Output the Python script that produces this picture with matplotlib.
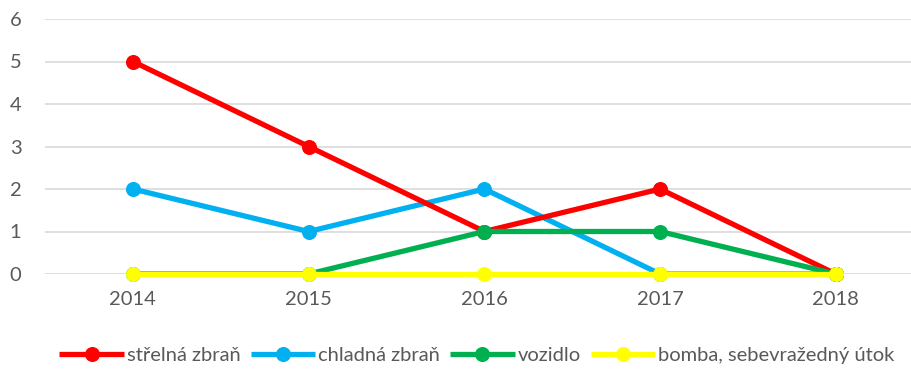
import matplotlib
matplotlib.use("Agg")
import matplotlib.pyplot as plt

plt.rcParams['font.family'] = ['Lato', 'DejaVu Sans']

years = ["2014", "2015", "2016", "2017", "2018"]
strelna = [5, 3, 1, 2, 0]
chladna = [2, 1, 2, 0, 0]
vozidlo = [0, 0, 1, 1, 0]
bomba = [0, 0, 0, 0, 0]

series = [
    ("střelná zbraň", strelna, "#FF0000", 3),
    ("chladná zbraň", chladna, "#00B0F0", 2),
    ("vozidlo", vozidlo, "#00B050", 4),
    ("bomba, sebevražedný útok", bomba, "#FFFF00", 5),
]

fig = plt.figure(figsize=(9.12, 3.69), dpi=100)
ax = fig.add_axes([45 / 912, 1 - 274 / 369, 867 / 912, 255 / 369])

x = list(range(len(years)))
handles = []
for label, vals, color, z in series:
    h, = ax.plot(x, vals, color=color, lw=3.8, marker="o", markersize=10,
                 markerfacecolor=color, markeredgecolor=color, markeredgewidth=0.8,
                 solid_capstyle="butt", label=label, zorder=z, clip_on=False)
    handles.append(h)

ax.set_ylim(0, 6)
ax.set_xlim(-0.5, -0.5 + 867 / 175.75)
ax.set_yticks(range(0, 7))
ax.set_xticks(x)
ax.set_xticklabels(years)
ax.grid(axis="y", color="#D9D9D9", lw=1.2, zorder=0)
ax.set_axisbelow(True)
for s in ax.spines.values():
    s.set_visible(False)
ax.tick_params(axis="both", length=0, labelsize=14.5, labelcolor="#595959")
ax.tick_params(axis="x", pad=12)
ax.tick_params(axis="y", pad=17)

fig.legend(handles=handles, loc="center", bbox_to_anchor=(477 / 912, 1 - 355 / 369),
           ncol=4, frameon=False, fontsize=14.5, handlelength=3.2, handletextpad=0.15,
           columnspacing=0.5, labelcolor="#595959", borderaxespad=0)

fig.savefig("out.png", dpi=100)
